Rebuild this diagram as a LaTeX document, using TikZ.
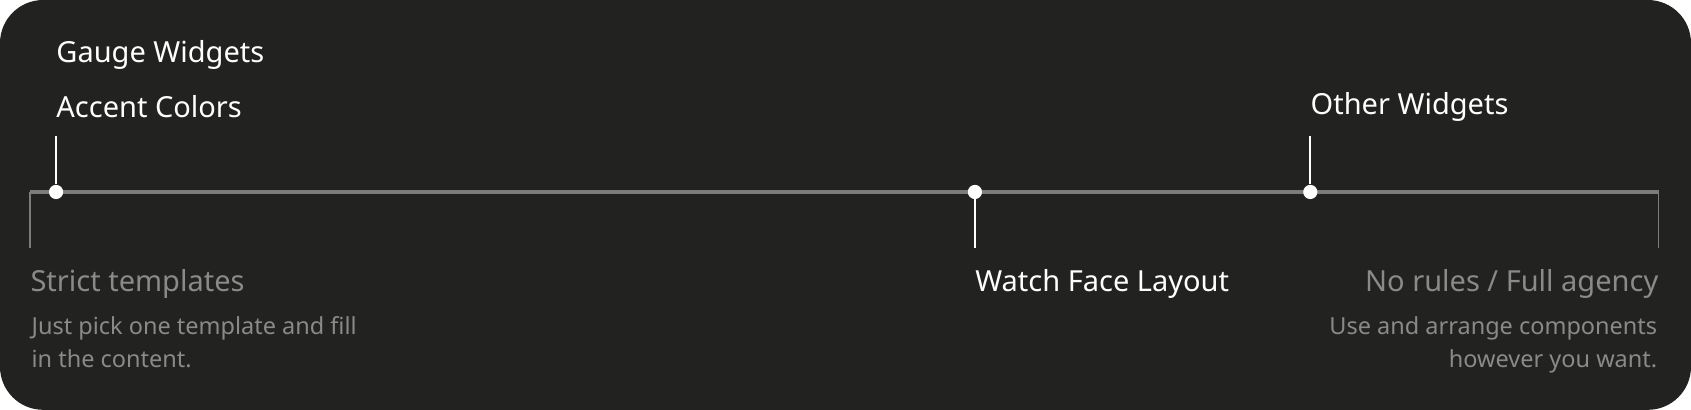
\documentclass[tikz,border=0pt]{standalone}
\usepackage{fontspec}
\setmainfont{Noto Sans}
\usetikzlibrary{positioning}
\definecolor{bgdark}{HTML}{222220}
\definecolor{axisgrey}{HTML}{7C7C7A}
\definecolor{softgrey}{HTML}{8A8A88}
\tikzset{%
	dot/.style   = {circle, fill=white, inner sep=0pt, minimum size=7.5pt},
	stem/.style  = {white, line width=1.2pt},
	label/.style = {text=white, font=\fontsize{15.3}{17}\selectfont, inner sep=0pt},
	end/.style   = {text=softgrey, font=\fontsize{15.3}{17}\selectfont, inner sep=0pt},
	desc/.style  = {text=softgrey, font=\fontsize{12.4}{17.5}\selectfont, inner sep=0pt},
}
\begin{document}
\begin{tikzpicture}[x=0.02cm,y=-0.02cm]
		\fill[bgdark,rounded corners=0.8cm] (0,0) rectangle (1568,380);
		\useasboundingbox (0,0) rectangle (1568,380);
		
		\coordinate (left) at (28,178);
		\coordinate (right) at (1538,178);
		\draw[axisgrey,line width=2.2pt] (left) -- (right);
		\draw[axisgrey,line width=0.8pt] (28,178) -- (28,230);
		\draw[axisgrey,line width=0.8pt] (1538,178) -- (1538,230);
		
		\node[dot] (accent) at (52,178) {};
		\node[dot] (watch) at (904,178) {};
		\node[dot] (other) at (1215,178) {};
		\coordinate (accenttop) at (52,126);
		\coordinate (watchbot) at (904,230);
		\coordinate (othertop) at (1215,126);
		\draw[stem] (accent) -- (accenttop);
		\draw[stem] (watch) -- (watchbot);
		\draw[stem] (other) -- (othertop);
		
		\node[label,anchor=west] (gauge) at (52,51) {Gauge Widgets};
		\node[label,anchor=west] (colors) at (52,99) {Accent Colors};
		\node[label,anchor=west] (others) at (1215,99) {Other Widgets};
		\node[label,anchor=west] (layout) at (904,263) {Watch Face Layout};
		
		\node[end,anchor=west] (strict) at (28,263) {Strict templates};
		\node[end,anchor=east] (norules) at (1538,263) {No rules / Full agency};
		\node[desc,anchor=north west,align=left] (strictdesc) at (29,293) {Just pick one template and fill\\in the content.};
		\node[desc,anchor=north east,align=right] (norulesdesc) at (1537,293) {Use and arrange components\\however you want.};
\end{tikzpicture}
\end{document}
